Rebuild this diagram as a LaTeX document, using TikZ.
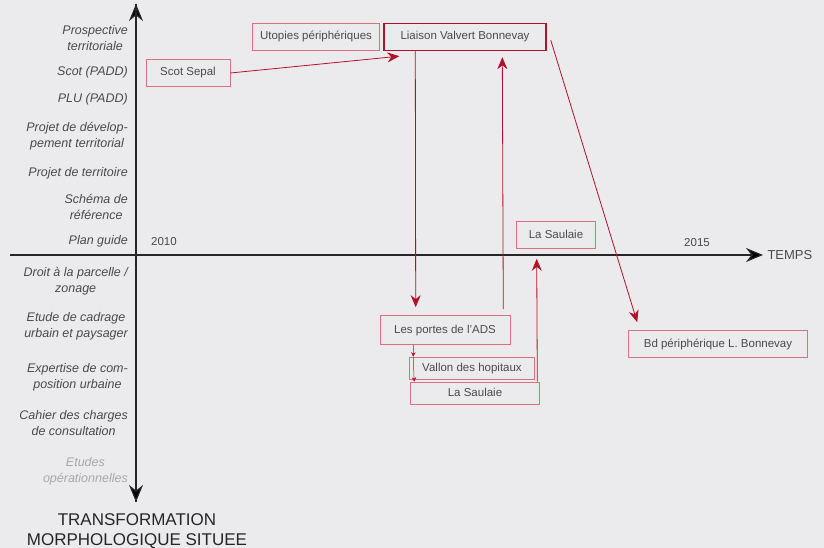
\documentclass[tikz,border=0pt]{standalone}
\usepackage{fontspec}
\setmainfont{Liberation Sans}
\usetikzlibrary{arrows.meta}
\definecolor{fond}{HTML}{EBEBED}
\definecolor{rouge}{HTML}{B3112A}
\definecolor{rose}{HTML}{D9707E}
\definecolor{encre}{HTML}{4A4A4A}
\definecolor{pale}{HTML}{A8A8AC}

\begin{document}
\begin{tikzpicture}
[x=1pt,y=-1pt
,lbl/.style={font=\fontsize{12.5}{16}\selectfont\itshape,text=encre,align=center,anchor=east,inner sep=0pt}
,yr/.style={font=\fontsize{11.5}{12}\selectfont,text=encre,inner sep=0pt}
,bx/.style={draw=rose,line width=0.6pt,font=\fontsize{11.5}{12}\selectfont,text=encre,inner sep=0pt,
  text height=8.5pt,text depth=2.5pt,minimum height=27pt}
,key/.style={bx,draw=rouge,line width=1.4pt}
,ax/.style={draw=black!85,line width=1.2pt,arrows={-Stealth[length=17pt,width=14pt,fill=black]}}
,ra/.style={draw=rouge,line width=0.8pt,arrows={-Stealth[length=12pt,width=10pt]}}
,sa/.style={draw=rouge,line width=0.5pt,arrows={-Stealth[length=4.5pt,width=4.5pt]}}
]
\clip (0,0) rectangle (824,548);
\fill[fond] (0,0) rectangle (824,548);
% axes
\coordinate (top) at (136,4);
\coordinate (bot) at (136,502);
\coordinate (left) at (10,255);
\coordinate (right) at (763,255);
\draw[ax] (bot) -- (top);
\draw[ax] (top) -- (bot);
\draw[ax] (left) -- (right);
\node[anchor=west,font=\fontsize{13}{14}\selectfont,text=encre] (temps) at (764,255) {TEMPS};
\node[font=\fontsize{17}{20}\selectfont,text=black!85,align=center,anchor=north] (titre) at (137,510) {TRANSFORMATION\\MORPHOLOGIQUE SITUEE};
\node[yr] (y2010) at (164,242) {2010};
\node[yr] (y2015) at (697,243) {2015};
% niveaux
\node[lbl] (l1) at (128,38) {Prospective\\territoriale};
\node[lbl] (l2) at (128,72) {Scot (PADD)};
\node[lbl] (l3) at (128,99) {PLU (PADD)};
\node[lbl] (l4) at (128,136) {Projet de dévelop-\\pement territorial};
\node[lbl] (l5) at (128,173) {Projet de territoire};
\node[lbl] (l6) at (128,207) {Schéma de\\référence};
\node[lbl] (l7) at (128,241) {Plan guide};
\node[lbl] (l8) at (128,281) {Droit à la parcelle /\\zonage};
\node[lbl] (l9) at (128,326) {Etude de cadrage\\urbain et paysager};
\node[lbl] (l10) at (128,377) {Expertise de com-\\position urbaine};
\node[lbl] (l11) at (128,423) {Cahier des charges\\de consultation};
\node[lbl,text=pale] (l12) at (128,471) {Etudes\\opérationnelles};
% projets
\node[bx,minimum width=84pt] (scot) at (188,73) {Scot Sepal};
\node[bx,minimum width=127pt] (utop) at (316,37) {Utopies périphériques};
\node[key,minimum width=162pt] (liaison) at (465,37) {Liaison Valvert Bonnevay};
\node[bx,minimum width=79pt] (saul1) at (556,235) {La Saulaie};
\node[bx,minimum width=130pt,minimum height=29pt] (portes) at (445,330) {Les portes de l'ADS};
\node[bx,minimum width=125pt,minimum height=22pt] (vallon) at (472,368) {Vallon des hopitaux};
\node[bx,minimum width=129pt,minimum height=22pt] (saul2) at (475,393) {La Saulaie};
\node[bx,minimum width=179pt] (bd) at (718,344) {Bd périphérique L. Bonnevay};
% liens
\draw[ra] (scot.east) -- ([xshift=16pt,yshift=-5pt]liaison.south west);
\draw[ra] ([xshift=32pt]liaison.south west) -- ([xshift=36pt,yshift=8pt]portes.north west);
\draw[ra] ([xshift=-7pt,yshift=6pt]portes.north east) -- ([xshift=119pt,yshift=-6pt]liaison.south west);
\draw[ra] ([xshift=4pt,yshift=-3pt]liaison.east) -- ([xshift=9pt,yshift=8pt]bd.north west);
\draw[ra] ([xshift=-2.5pt]saul2.north east) -- ([xshift=20.5pt,yshift=-10pt]saul1.south west);
\draw[sa] ([xshift=34pt]portes.south west) -- ([xshift=4pt]vallon.north west);
\draw[sa] ([xshift=4pt]vallon.north west) -- ([xshift=4pt]saul2.north west);
\end{tikzpicture}
\end{document}
